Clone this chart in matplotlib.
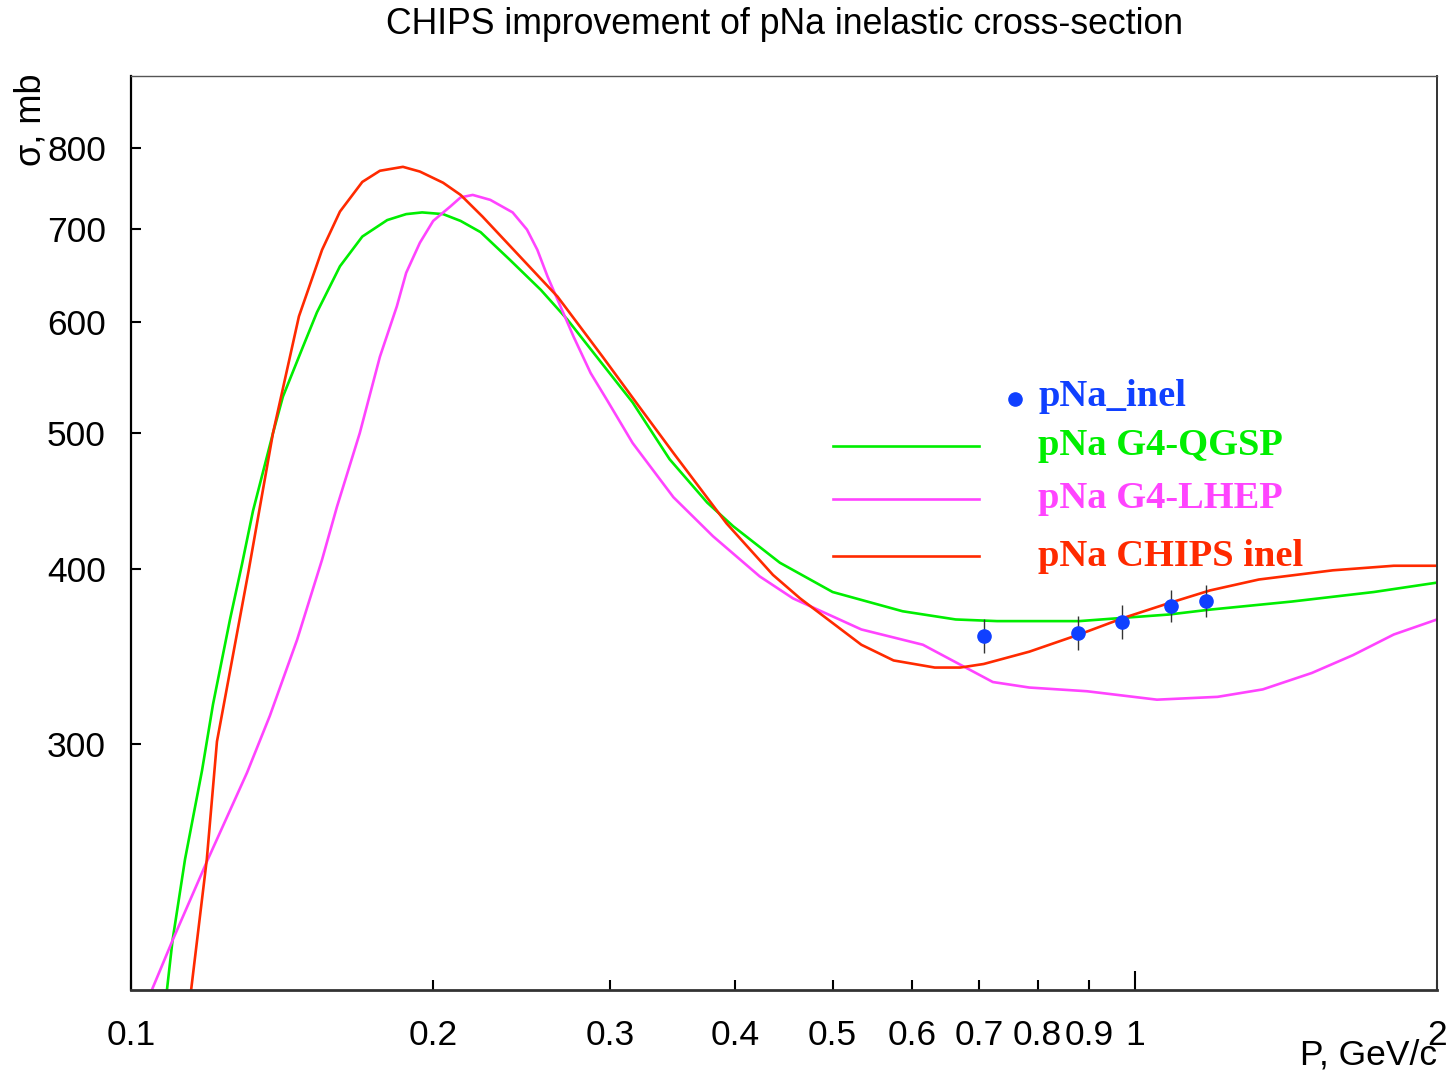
import matplotlib.pyplot as plt

# pNa inelastic cross-section (mb) vs momentum P (GeV/c)
p_qgsp = [0.1086, 0.110, 0.1132, 0.1177, 0.1207, 0.1255, 0.129, 0.1323, 0.1385, 0.1417,
          0.1483, 0.1532, 0.1615, 0.170, 0.180, 0.188, 0.195, 0.2046, 0.213, 0.223,
          0.2385, 0.256, 0.272, 0.291, 0.316, 0.344, 0.375, 0.398, 0.443, 0.5,
          0.587, 0.663, 0.729, 0.880, 0.975, 1.081, 1.188, 1.433, 1.73, 2.0]
sig_qgsp = [200, 217, 248, 287, 320, 368, 403, 440, 500, 531,
            576, 610, 658, 691, 710, 717, 719, 717, 709, 696,
            665, 633, 603, 567, 526, 479, 446, 429, 404, 385,
            373, 368, 367, 367, 369, 371, 374, 379, 385, 391]

p_lhep = [0.1049, 0.110, 0.119, 0.1305, 0.1375, 0.1464, 0.155, 0.1604, 0.169, 0.177,
          0.184, 0.188, 0.194, 0.200, 0.208, 0.213, 0.219, 0.228, 0.240, 0.248,
          0.254, 0.260, 0.266, 0.276, 0.287, 0.298, 0.316, 0.347, 0.380, 0.423,
          0.4565, 0.534, 0.615, 0.663, 0.722, 0.785, 0.896, 1.052, 1.209, 1.341,
          1.501, 1.649, 1.811, 2.0]
sig_lhep = [200, 217, 247, 286, 314, 356, 406, 443, 500, 567,
            616, 651, 684, 709, 726, 737, 740, 734, 719, 699,
            676, 647, 623, 586, 552, 528, 492, 450, 422, 395,
            381, 362, 353, 343, 332, 329, 327, 322.5, 324, 328,
            337, 347, 359, 368]

p_chips = [0.1145, 0.119, 0.1218, 0.131, 0.1385, 0.147, 0.155, 0.1615, 0.170, 0.177,
           0.1866, 0.194, 0.2046, 0.213, 0.224, 0.266, 0.295, 0.321, 0.347, 0.392,
           0.436, 0.464, 0.534, 0.575, 0.632, 0.670, 0.707, 0.785, 0.880, 0.975,
           1.081, 1.188, 1.329, 1.575, 1.811, 2.0]
sig_chips = [197, 248, 301, 399, 500, 606, 676, 720, 756, 770,
             775, 769, 755, 740, 714, 626, 567, 522, 484, 431,
             396, 381, 353, 344, 340, 340, 342, 349, 359, 369,
             378, 386, 393, 399, 402, 402]

# experimental points
p_data = [0.707, 0.878, 0.971, 1.086, 1.177]
sig_data = [358, 360, 366.6, 376.5, 379.5]
err_data = [10, 10, 10, 10, 10]

xtick_minor = [0.1, 0.2, 0.3, 0.4, 0.5, 0.6, 0.7, 0.8, 0.9, 2]
xtick_minor_labels = ['0.1', '0.2', '0.3', '0.4', '0.5', '0.6', '0.7', '0.8', '0.9', '2']
yticks = [300, 400, 500, 600, 700, 800]

c_qgsp = '#00ee00'
c_lhep = '#ff44ff'
c_chips = '#ff2a00'
c_data = '#1040ff'

plt.rcParams['font.family'] = ['Liberation Sans', 'DejaVu Sans']

fig = plt.figure(figsize=(14.52, 10.76), dpi=100)
ax = fig.add_axes([0.0902, 0.0799, 0.8995, 0.8495])
ax.set_xscale('log')
ax.set_yscale('log')

ax.plot(p_qgsp, sig_qgsp, color=c_qgsp, lw=1.9)
ax.plot(p_lhep, sig_lhep, color=c_lhep, lw=1.9)
ax.plot(p_chips, sig_chips, color=c_chips, lw=1.9)
ax.errorbar(p_data, sig_data, yerr=err_data, fmt='o', color=c_data, ms=9.5,
            ecolor='#333333', elinewidth=1.0, capsize=0, zorder=5)

ax.set_xlim(0.1, 2)
ax.set_ylim(200, 900)

ax.set_xticks([1], labels=['1'])
ax.set_xticks(xtick_minor, labels=xtick_minor_labels, minor=True)
ax.set_yticks(yticks, labels=[str(v) for v in yticks])
ax.set_yticks([], minor=True)
ax.tick_params(axis='x', which='major', direction='in', length=14, width=1.5,
               labelsize=25.5, pad=21, top=False)
ax.tick_params(axis='x', which='minor', direction='in', length=7, width=1.5,
               labelsize=25.5, pad=21, top=False)
ax.tick_params(axis='y', which='major', direction='in', length=7, width=1.5,
               labelsize=25.5, pad=18, right=False)

ax.spines['left'].set_linewidth(1.6)
ax.spines['left'].set_color('black')
ax.spines['bottom'].set_linewidth(2.0)
ax.spines['bottom'].set_color('#333333')
ax.spines['top'].set_linewidth(1.0)
ax.spines['top'].set_color('#555555')
ax.spines['right'].set_linewidth(1.4)
ax.spines['right'].set_color('#333333')

# hand-made legend
leg_x0, leg_x1, leg_tx = 0.5375, 0.6493, 0.6945
ax.plot([0.6769], [0.6466], 'o', color=c_data, ms=9.5, transform=ax.transAxes, clip_on=False)
ax.text(leg_tx, 0.6488, 'pNa_inel', color=c_data, transform=ax.transAxes,
        family='Liberation Serif', weight='bold', fontsize=27.7, va='center')
entries = [(0.5952, c_qgsp, 'pNa G4-QGSP'),
           (0.5372, c_lhep, 'pNa G4-LHEP'),
           (0.4748, c_chips, 'pNa CHIPS inel')]
for y, c, lab in entries:
    ax.plot([leg_x0, leg_x1], [y, y], color=c, lw=1.9, transform=ax.transAxes)
    ax.text(leg_tx, y, lab, color=c, transform=ax.transAxes,
            family='Liberation Serif', weight='bold', fontsize=27.7, va='center')

fig.text(0.54, 1 - 25 / 1076, 'CHIPS improvement of pNa inelastic cross-section',
         ha='center', va='center', fontsize=25.7)
fig.text(31 / 1452, 1 - 74 / 1076, 'σ, mb', rotation=90, ha='center', va='top',
         fontsize=26)
fig.text(1437 / 1452, 1 - 1055 / 1076, 'P, GeV/c', ha='right', va='center',
         fontsize=25.5)

fig.savefig('out.png', dpi=100)
